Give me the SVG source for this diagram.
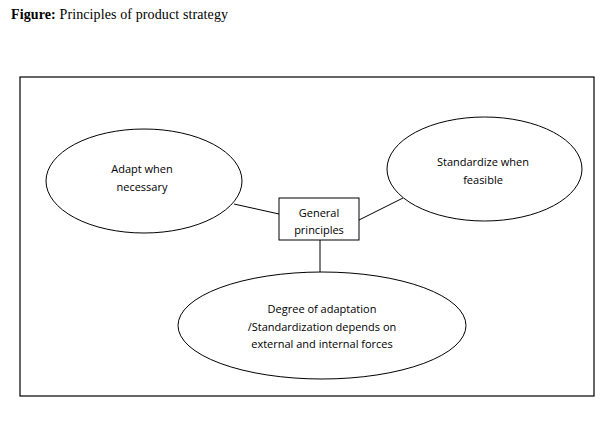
<svg xmlns="http://www.w3.org/2000/svg" width="606" height="423" viewBox="0 0 606 423">
<style>
.shape{fill:#fff;stroke:#000;stroke-width:1}
.lbl{font-family:"Open Sans","Liberation Sans",sans-serif;font-size:11px;fill:#000;text-anchor:middle}
.conn line{stroke:#000;stroke-width:1}
</style>
<rect width="606" height="423" fill="#fff"/>
<text x="11" y="19" font-family="Liberation Serif,serif" font-size="14" fill="#000" textLength="217" lengthAdjust="spacing"><tspan font-weight="bold">Figure:</tspan> Principles of product strategy</text>
<rect x="20" y="77" width="574" height="319" fill="none" stroke="#000" stroke-width="1.2"/>
<g id="connectors" class="conn">
<line x1="234" y1="204" x2="279" y2="214"/>
<line x1="359" y1="220" x2="403" y2="198"/>
<line x1="320" y1="240" x2="320" y2="272"/>
</g>
<g id="adapt">
<ellipse class="shape" cx="144" cy="181" rx="98" ry="52"/>
<text class="lbl" x="142" y="173">Adapt when</text>
<text class="lbl" x="142" y="191">necessary</text>
</g>
<g id="standardize">
<ellipse class="shape" cx="484.5" cy="169" rx="97.5" ry="52"/>
<text class="lbl" x="483" y="166">Standardize when</text>
<text class="lbl" x="483" y="184">feasible</text>
</g>
<g id="general">
<rect class="shape" x="279" y="198" width="80" height="42"/>
<text class="lbl" x="319" y="217">General</text>
<text class="lbl" x="319" y="234">principles</text>
</g>
<g id="degree">
<ellipse class="shape" cx="322" cy="325.5" rx="144" ry="53.5"/>
<text class="lbl" x="322" y="313">Degree of adaptation</text>
<text class="lbl" x="322" y="331">/Standardization depends on</text>
<text class="lbl" x="322" y="348">external and internal forces</text>
</g>
</svg>
